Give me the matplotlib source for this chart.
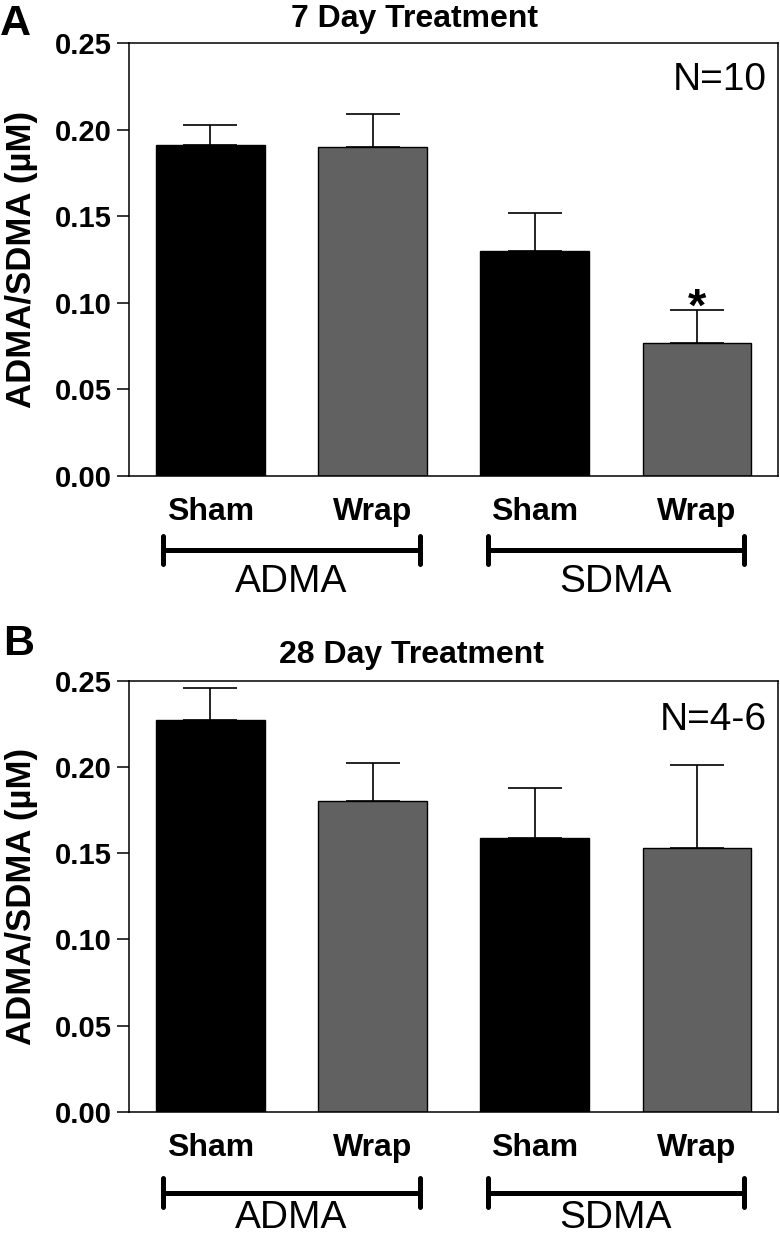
import numpy as np
import matplotlib
matplotlib.use('Agg')
import matplotlib.pyplot as plt
from matplotlib.transforms import blended_transform_factory

plt.rcParams['font.family'] = ['Liberation Sans', 'DejaVu Sans']

# data
categories = ['Sham', 'Wrap', 'Sham', 'Wrap']
groups = ['ADMA', 'SDMA']
bar_colors = ['black', '#616161', 'black', '#616161']

mean_7d = [0.191, 0.190, 0.130, 0.077]
err_7d = [0.012, 0.019, 0.022, 0.019]
mean_28d = [0.227, 0.180, 0.159, 0.153]
err_28d = [0.019, 0.022, 0.029, 0.048]

yticks = [0.00, 0.05, 0.10, 0.15, 0.20, 0.25]

fig = plt.figure(figsize=(7.8, 12.36), dpi=100)

panels = [
    # letter, title, means, errs, N text, axes rect, label/bracket/group y (axes coords)
    ('A', '7 Day Treatment', mean_7d, err_7d, 'N=10',
     [0.1658, 0.6149, 0.8316, 0.3501], -0.102, -0.171, -0.268),
    ('B', '28 Day Treatment', mean_28d, err_28d, 'N=4-6',
     [0.1658, 0.1003, 0.8316, 0.3490], -0.102, -0.187, -0.269),
]

x = np.arange(len(categories))

for letter, title, means, errs, ntext, rect, lab_y, br_y, grp_y in panels:
    ax = fig.add_axes(rect)
    ax.bar(x, means, width=0.67, color=bar_colors, edgecolor='black', linewidth=1.0, zorder=2)
    ax.errorbar(x, means, yerr=[np.zeros(len(means)), errs], fmt='none',
                ecolor='black', elinewidth=1.2, capsize=19.5, capthick=1.2, zorder=1)
    ax.set_xlim(-0.5, 3.5)
    ax.set_ylim(0, 0.25)
    ax.set_yticks(yticks)
    ax.set_yticklabels(['%.2f' % t for t in yticks], fontsize=21, fontweight='bold')
    ax.tick_params(axis='y', length=8.6, width=1.1, pad=4)
    ax.set_xticks([])
    for s in ax.spines.values():
        s.set_linewidth(1.1)

    ax.set_ylabel('ADMA/SDMA (µM)', fontsize=25, fontweight='bold')
    ax.yaxis.set_label_coords(-0.141, 0.5)

    ax.text(0.983, 0.892 if letter == 'A' else 0.886, ntext, transform=ax.transAxes,
            ha='right', va='baseline', fontsize=28)

    tr = blended_transform_factory(ax.transData, ax.transAxes)
    for xi, lab in zip(x, categories):
        ax.text(xi, lab_y, lab, transform=tr, ha='center', va='baseline',
                fontsize=23, fontweight='bold')

    for gi, g in enumerate(groups):
        c = 0.5 + 2 * gi
        x0, x1 = c - 0.79, c + 0.79
        ax.plot([x0, x1], [br_y, br_y], transform=tr, color='black', lw=3.6,
                clip_on=False, solid_capstyle='butt')
        for xe in (x0, x1):
            ax.plot([xe, xe], [br_y - 0.033, br_y + 0.033], transform=tr, color='black',
                    lw=3.6, clip_on=False, solid_capstyle='round')
        ax.text(c, grp_y, g, transform=tr, ha='center', va='baseline', fontsize=28)

    if letter == 'A':
        ax.annotate('*', xy=(3, means[3] + errs[3]), xytext=(0, -8), textcoords='offset points',
                    ha='center', va='baseline', fontsize=34, fontweight='bold')

fig.text(0.531, 0.9782, '7 Day Treatment', ha='center', va='baseline', fontsize=23, fontweight='bold')
fig.text(0.5276, 0.4636, '28 Day Treatment', ha='center', va='baseline', fontsize=23, fontweight='bold')
fig.text(0.0, 1 - 35 / 1236, 'A', ha='left', va='baseline', fontsize=31, fontweight='bold')
fig.text(0.004, 1 - 655 / 1236, 'B', ha='left', va='baseline', fontsize=31, fontweight='bold')

fig.savefig('out.png', dpi=100)
